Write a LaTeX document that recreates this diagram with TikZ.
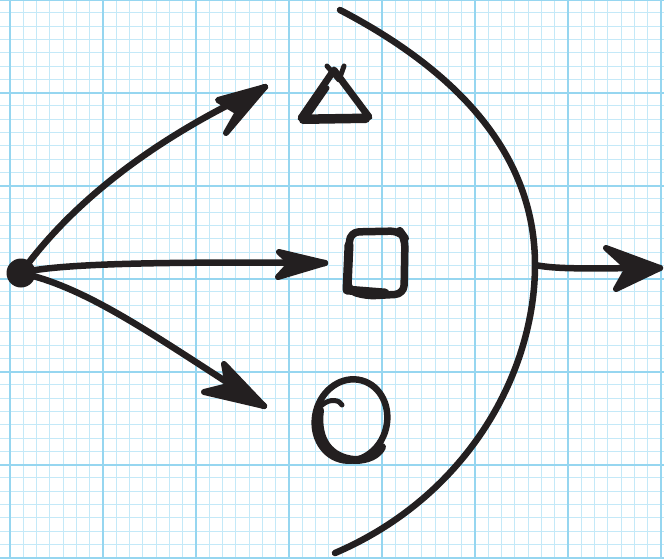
\documentclass[tikz,border=0pt]{standalone}
\definecolor{inkc}{RGB}{35,31,32}
\definecolor{gridmajor}{RGB}{150,214,240}
\definecolor{gridminor}{RGB}{196,233,248}
\begin{document}
\begin{tikzpicture}[x=1pt,y=-1pt,
  ink/.style={draw=inkc, line width=6.5pt, line cap=round, line join=round},
  headshape/.style={draw=inkc, fill=inkc, line width=6pt, line join=round, line cap=round},
  minorline/.style={draw=gridminor, line width=1pt},
  majorline/.style={draw=gridmajor, line width=2pt}]
\useasboundingbox (0,0) rectangle (664,558);
\fill[white] (0,0) rectangle (664,558);
\begin{scope}
\clip (0,0) rectangle (664,558);
\foreach \i in {-1,...,50} {
  \pgfmathsetmacro\xx{10+\i*93/7}
  \draw[minorline] (\xx,0) -- (\xx,558);
  \pgfmathsetmacro\yy{-0.3+\i*93/7}
  \draw[minorline] (0,\yy) -- (664,\yy);
}
\foreach \i in {-1,...,7} {
  \pgfmathsetmacro\xx{10+\i*93}
  \draw[majorline] (\xx,0) -- (\xx,558);
  \pgfmathsetmacro\yy{-0.3+\i*93}
  \draw[majorline] (0,\yy) -- (664,\yy);
}
\end{scope}

% named points
\coordinate (src) at (21,273);
\coordinate (t1) at (265,87);
\coordinate (t2) at (325,263);
\coordinate (t3) at (264,406);
\coordinate (arcTop) at (340,10);
\coordinate (arcMid) at (535,265);
\coordinate (arcBot) at (335,553);
\coordinate (t4) at (660,268);

% source dot
\fill[inkc] (src) circle (14.5);

% arrow 1 (to triangle)
\draw[ink] (src) .. controls (70,205) and (150,140) .. (t1);
\draw[headshape] (218,100) -- (t1) -- (226,133) -- (238,112) -- cycle;

% arrow 2 (to square)
\draw[ink] (src) .. controls (60,262) and (200,262) .. (t2);
\draw[headshape] (279,252) -- (t2) -- (278,277) -- (291,263) -- cycle;

% arrow 3 (to circle)
\draw[ink] (src) .. controls (90,288) and (160,340) .. (t3);
\draw[headshape] (224,364) -- (t3) -- (204,392) -- (228,386) -- cycle;

% triangle
\draw[ink, line width=7pt] (301,118) -- (334,70) -- (369,117) -- cycle;
\draw[ink, line width=5pt] (309,114) -- (327,88);
\draw[ink, line width=5pt] (327,66) -- (339,80) -- (344,66);
\draw[ink, line width=8pt] (303,120) -- (366,119);

% square
\draw[ink, line width=7.5pt, rounded corners=9pt] (350,232) -- (400,231) -- (405,238) -- (404,294) -- (366,296) -- (347,290) -- cycle;
\draw[ink, line width=9pt] (349,245) -- (347,290) -- (385,293);

% circle
\draw[ink, line width=6.5pt, rotate around={-15:(351,420)}] (351,420) ellipse (36 and 41);
\draw[ink, line width=8pt] (320,410) .. controls (316,440) and (330,458) .. (355,460) .. controls (368,460) and (378,455) .. (382,447);
\draw[ink, line width=5pt] (322,405) .. controls (330,398) and (340,400) .. (342,405);

% big arc
\draw[ink] (arcTop) .. controls (478,82) and (535,170) .. (arcMid) .. controls (535,370) and (470,495) .. (arcBot);

% arrow 4 (right)
\draw[ink] (arcMid) .. controls (560,270) and (600,268) .. (t4);
\draw[headshape] (606,248) -- (t4) -- (616,289) -- (628,268) -- cycle;
\end{tikzpicture}
\end{document}
